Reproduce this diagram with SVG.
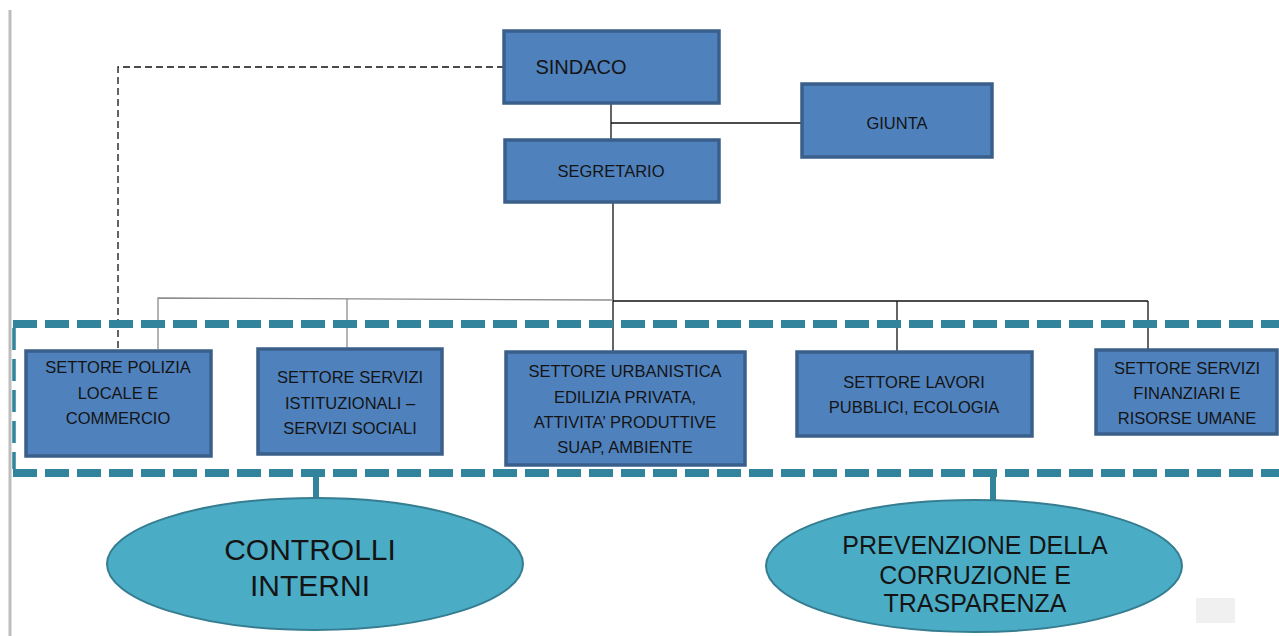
<svg xmlns="http://www.w3.org/2000/svg" width="1279" height="636" viewBox="0 0 1279 636">
<style>
.box{fill:#4F81BD;stroke:#3A5F8B;stroke-width:3.5}
.t{font-family:"Liberation Sans",Arial,sans-serif;fill:#141414;text-anchor:middle}
.bt{font-size:16.5px}
.ell{fill:#4BACC6;stroke:#357D91;stroke-width:2}
.ln{stroke:#111;stroke-width:1.3;fill:none}
.lg{stroke:#8c8c8c;stroke-width:1.3;fill:none}
.teal{stroke:#31849B;stroke-width:8;fill:none;stroke-dasharray:24 8}
</style>
<rect width="1279" height="636" fill="#fff"/>
<line x1="10" y1="10" x2="10" y2="636" stroke="#bdbdbd" stroke-width="3"/>
<rect x="1196" y="598" width="39" height="25" fill="#f0f0f0"/>
<g id="connectors">
<line class="ln" x1="611" y1="103" x2="611" y2="139"/>
<line class="ln" x1="611" y1="123" x2="801" y2="123"/>
<line class="ln" x1="613" y1="203" x2="613" y2="351"/>
<polyline class="lg" points="158,349 158,298 613,300"/>
<line class="lg" x1="347" y1="299" x2="347" y2="348"/>
<line class="ln" x1="613" y1="301" x2="1148" y2="301"/>
<line class="ln" x1="897" y1="301" x2="897" y2="351"/>
<line class="ln" x1="1148" y1="301" x2="1148" y2="349"/>
<polyline class="ln" points="504,67 118,67 118,349" stroke-dasharray="7 4"/>
<line class="teal" x1="13" y1="324" x2="1279" y2="324"/>
<line class="teal" x1="13" y1="473" x2="1279" y2="473"/>
<line x1="14" y1="328" x2="14" y2="469" stroke="#31849B" stroke-width="3.5" stroke-dasharray="22 9"/>
<line x1="316" y1="473" x2="316" y2="500" stroke="#31849B" stroke-width="6"/>
<line x1="993" y1="473" x2="993" y2="502" stroke="#31849B" stroke-width="6"/>
</g>
<g id="sindaco"><rect class="box" x="504" y="31" width="215" height="72"/><text class="t" x="581" y="74" font-size="20">SINDACO</text></g>
<g id="giunta"><rect class="box" x="802" y="84" width="190" height="73"/><text class="t" x="897" y="129" font-size="16.5">GIUNTA</text></g>
<g id="segretario"><rect class="box" x="505" y="140" width="214" height="62"/><text class="t" x="611" y="177" font-size="16.5">SEGRETARIO</text></g>
<g id="polizia"><rect class="box" x="26" y="351" width="185" height="105"/>
<text class="t bt"><tspan x="118" y="373">SETTORE POLIZIA</tspan><tspan x="118" y="399">LOCALE E</tspan><tspan x="118" y="424">COMMERCIO</tspan></text></g>
<g id="servizi"><rect class="box" x="258" y="349" width="184" height="105"/>
<text class="t bt"><tspan x="350" y="383">SETTORE  SERVIZI</tspan><tspan x="350" y="409">ISTITUZIONALI –</tspan><tspan x="350" y="434">SERVIZI SOCIALI</tspan></text></g>
<g id="urbanistica"><rect class="box" x="506" y="352" width="239" height="113"/>
<text class="t bt"><tspan x="625" y="377">SETTORE URBANISTICA</tspan><tspan x="625" y="403">EDILIZIA PRIVATA,</tspan><tspan x="625" y="428">ATTIVITA’ PRODUTTIVE</tspan><tspan x="625" y="453">SUAP, AMBIENTE</tspan></text></g>
<g id="lavori"><rect class="box" x="797" y="352" width="235" height="84"/>
<text class="t bt"><tspan x="914" y="388">SETTORE LAVORI</tspan><tspan x="914" y="413">PUBBLICI, ECOLOGIA</tspan></text></g>
<g id="finanziari"><rect class="box" x="1096" y="350" width="181" height="84"/>
<text class="t bt"><tspan x="1187" y="374">SETTORE SERVIZI</tspan><tspan x="1187" y="399">FINANZIARI E</tspan><tspan x="1187" y="424">RISORSE UMANE</tspan></text></g>
<g id="controlli"><ellipse class="ell" cx="315" cy="564" rx="208" ry="66"/>
<text class="t" font-size="30"><tspan x="310" y="560">CONTROLLI</tspan><tspan x="310" y="596">INTERNI</tspan></text></g>
<g id="prevenzione"><ellipse class="ell" cx="974" cy="566" rx="208" ry="66"/>
<text class="t" font-size="25"><tspan x="975" y="554">PREVENZIONE DELLA</tspan><tspan x="975" y="584">CORRUZIONE E</tspan><tspan x="975" y="612">TRASPARENZA</tspan></text></g>
</svg>
